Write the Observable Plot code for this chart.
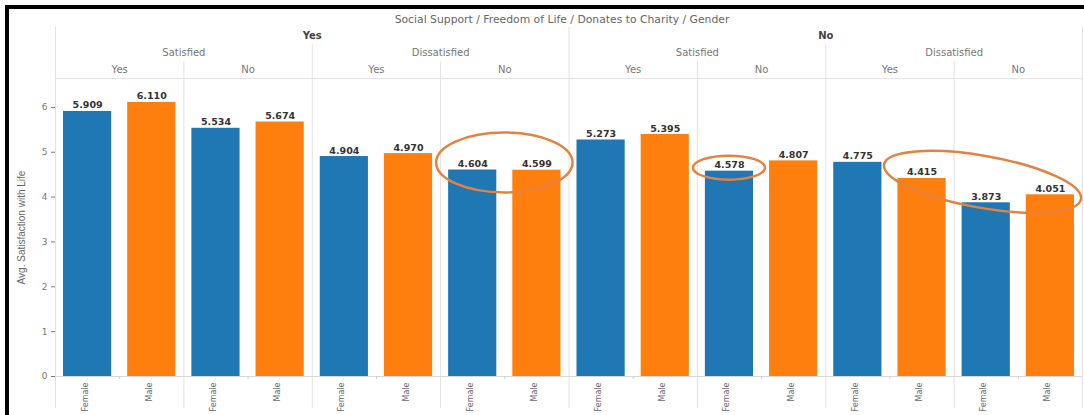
<!DOCTYPE html>
<html><head><meta charset="utf-8">
<script src="https://cdn.jsdelivr.net/npm/d3@7"></script>
<script src="https://cdn.jsdelivr.net/npm/@observablehq/plot@0.6"></script>
<style>
html,body{margin:0;padding:0;background:#fff;}
#wrap{position:relative;width:1084px;height:415px;overflow:hidden;background:#fff;}
#wrap svg{position:absolute;left:0;top:0;}
#border{position:absolute;left:5px;top:5px;right:-10px;bottom:-10px;border-top:4px solid #000;border-left:4px solid #000;pointer-events:none;}
</style></head><body>
<div id="wrap"><div id="border"></div></div>
<script>
// ---- data ----
const title = "Social Support / Freedom of Life / Donates to Charity / Gender";
const yLabel = "Avg. Satisfaction with Life";
const socialSupport = ["Yes", "No"];
const freedomOfLife = ["Satisfied", "Dissatisfied"];
const donatesToCharity = ["Yes", "No"];
const genders = ["Female", "Male"];
const femaleAvg = [5.909, 5.534, 4.904, 4.604, 5.273, 4.578, 4.775, 3.873];
const maleAvg   = [6.110, 5.674, 4.970, 4.599, 5.395, 4.807, 4.415, 4.051];
const yTicks = [0, 1, 2, 3, 4, 5, 6];

// ---- build tables ----
const bars = [], lvl1 = [], lvl2 = [], lvl3 = [];
let pane = 0;
socialSupport.forEach((ss) => {
  const s1 = pane * 2;
  freedomOfLife.forEach((fl) => {
    const s2 = pane * 2;
    donatesToCharity.forEach((dc) => {
      const s3 = pane * 2;
      genders.forEach((g, d) => {
        bars.push({i: pane * 2 + d, gender: g, value: (d === 0 ? femaleAvg : maleAvg)[pane]});
      });
      lvl3.push({label: dc, start: s3, end: pane * 2 + 2});
      pane++;
    });
    lvl2.push({label: fl, start: s2, end: pane * 2});
  });
  lvl1.push({label: ss, start: s1, end: pane * 2});
});
const n = bars.length;
const b1 = [0, ...lvl1.map(d => d.end)];
const b2 = lvl2.map(d => d.end).filter(v => !b1.includes(v));
const b3 = lvl3.map(d => d.end).filter(v => !b1.includes(v) && !b2.includes(v));

const font = "'DejaVu Sans', Verdana, sans-serif";
const narrow = "'Liberation Sans', Arial, sans-serif";
const sepColor = "#e2e2e2";
const blue = "#1f77b4", orange = "#ff7f0e";

const chart = Plot.plot({
  width: 1084,
  height: 415,
  marginLeft: 55,
  marginRight: 2,
  marginTop: 78,
  marginBottom: 39,
  style: {fontFamily: font, background: "transparent"},
  x: {domain: [0, n], axis: null},
  y: {domain: [0, 6.644], axis: null},
  marks: [
    // separators
    Plot.ruleX(b1, {stroke: sepColor, insetTop: -51, insetBottom: -32}),
    Plot.ruleX(b2, {stroke: sepColor, insetTop: -34, insetBottom: -32}),
    Plot.ruleX(b3, {stroke: sepColor, insetTop: -17, insetBottom: -32}),
    Plot.frame({anchor: "top", stroke: "#e4e4e4"}),
    // bars
    Plot.rectY(bars, {x1: "i", x2: d => d.i + 1, y: "value", fill: d => d.gender === "Female" ? blue : orange, insetLeft: 8, insetRight: 8}),
    Plot.ruleY([0], {stroke: "#d8d8d8", insetBottom: -1}),
    Plot.ruleX(lvl3.map(d => (d.start + d.end) / 2), {y1: 0, y2: 0, insetBottom: -3, stroke: "#ccc"}),
    // value labels
    Plot.text(bars, {x: d => d.i + 0.5, y: "value", text: d => d.value.toFixed(3), lineAnchor: "bottom", dy: -3, fontSize: 9.5, fontWeight: "bold", fill: "#333"}),
    // gender labels
    Plot.text(bars, {x: d => d.i + 0.5, frameAnchor: "bottom", text: "gender", rotate: -90, textAnchor: "end", dy: 6, fontSize: 8, fill: "#666"}),
    // y axis
    Plot.axisY({ticks: yTicks, tickFormat: "d", tickSize: 4, tickPadding: 4, fontSize: 9, color: "#777", label: null}),
    Plot.text([yLabel], {frameAnchor: "left", rotate: -90, textAnchor: "middle", dx: -34, fontSize: 10, fontFamily: narrow, fill: "#666"}),
    // headers
    Plot.text([title], {x: n / 2, frameAnchor: "top", dy: -59, dx: -7, fontSize: 10.8, fill: "#666", lineAnchor: "middle"}),
    Plot.text(lvl1, {x: d => (d.start + d.end) / 2, text: "label", frameAnchor: "top", dy: -43, fontSize: 10, fontWeight: "bold", fill: "#444", lineAnchor: "middle"}),
    Plot.text(lvl2, {x: d => (d.start + d.end) / 2, text: "label", frameAnchor: "top", dy: -26, fontSize: 10, fill: "#777", lineAnchor: "middle"}),
    Plot.text(lvl3, {x: d => (d.start + d.end) / 2, text: "label", frameAnchor: "top", dy: -9, fontSize: 10, fill: "#777", lineAnchor: "middle"})
  ]
});
document.getElementById("wrap").prepend(chart);

// ---- annotation ellipses (positioned through the plot's scales) ----
const xs = chart.scale("x"), ys = chart.scale("y");
const X = v => xs.apply(v), Y = v => ys.apply(v);
const g = d3.select(chart).append("g").attr("fill", "none").attr("stroke", "#e5823f").attr("stroke-width", 2.5);
// pane 4 pair
g.append("ellipse").attr("cx", X(7)).attr("cy", Y(femaleAvg[3]) - 7).attr("rx", (X(8) - X(6)) / 2 + 4).attr("ry", 30);
// pane 6 female
g.append("ellipse").attr("cx", X(10.5)).attr("cy", Y(femaleAvg[5]) - 3).attr("rx", 36).attr("ry", 12);
// pane 7 male .. pane 8 pair
const cx3 = X(14.45), cy3 = Y(4.33);
g.append("ellipse").attr("cx", cx3).attr("cy", cy3).attr("rx", 100).attr("ry", 26)
  .attr("transform", `rotate(10 ${cx3} ${cy3})`);
</script>
</body></html>
